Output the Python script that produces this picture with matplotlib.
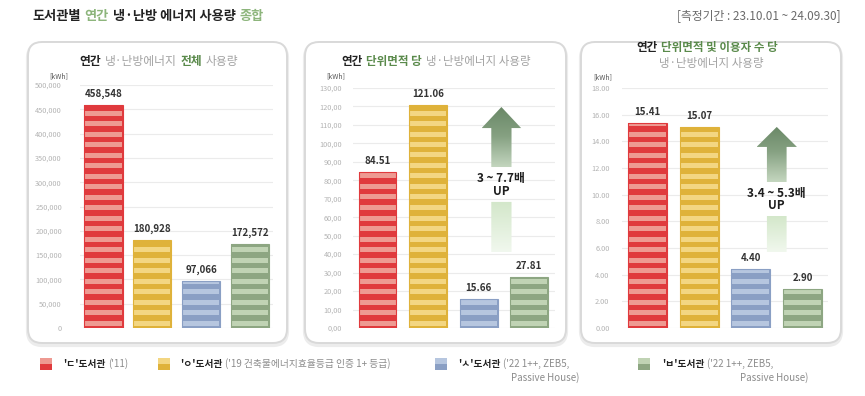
import numpy as np
import matplotlib.pyplot as plt
from matplotlib.patches import FancyBboxPatch, Rectangle, PathPatch
from matplotlib.path import Path
from matplotlib.colors import LinearSegmentedColormap
from matplotlib.ticker import FuncFormatter

plt.rcParams['font.family'] = ['Noto Sans CJK KR', 'DejaVu Sans']

# data
libraries = ["'ㄷ'도서관", "'ㅇ'도서관", "'ㅅ'도서관", "'ㅂ'도서관"]
lib_notes = ["('11)", "('19 건축물에너지효율등급 인증 1+ 등급)", "('22 1++, ZEB5,", "('22 1++, ZEB5,"]
total_use = [458548, 180928, 97066, 172572]
per_area = [84.51, 121.06, 15.66, 27.81]
per_area_user = [15.41, 15.07, 4.40, 2.90]

dark = ['#e03a3d', '#dfb23a', '#8a9fc4', '#8da682']
light = ['#ee9a92', '#f3d682', '#b6c6df', '#c0d3b4']

W, H = 865, 396
fig = plt.figure(figsize=(W / 100, H / 100), dpi=100)
fig.patch.set_facecolor('white')


def fx(px):
    return px / W


def fy(py):
    return 1 - py / H


def rich_text(x, y, parts, size, ha='left'):
    r = fig.canvas.get_renderer()
    gap = size * 0.3 * 100 / 72
    items, widths = [], []
    for s, c, w in parts:
        t = fig.text(0, fy(y), s, fontsize=size, color=c, fontweight=w, va='center', ha='left')
        items.append(t)
        widths.append(t.get_window_extent(r).width)
    total = sum(widths) + gap * (len(parts) - 1)
    if ha == 'center':
        start = x - total / 2
    elif ha == 'right':
        start = x - total
    else:
        start = x
    for t, w in zip(items, widths):
        t.set_x(fx(start))
        start += w + gap


def panel_box(x0, y0, x1, y1):
    shadow = FancyBboxPatch((x0 / 100, (H - y1 - 2) / 100), (x1 - x0) / 100, (y1 - y0) / 100,
                            boxstyle='round,pad=0,rounding_size=0.14', transform=fig.dpi_scale_trans,
                            facecolor='none', edgecolor='#ececec', lw=3, zorder=-3)
    box = FancyBboxPatch((x0 / 100, (H - y1) / 100), (x1 - x0) / 100, (y1 - y0) / 100,
                         boxstyle='round,pad=0,rounding_size=0.14', transform=fig.dpi_scale_trans,
                         facecolor='white', edgecolor='#d9d9d9', lw=1.4, zorder=-2)
    fig.add_artist(shadow)
    fig.add_artist(box)


def make_axes(x0, x1, ytop, ybot, ymax, step, fmt, xlim):
    ax = fig.add_axes([fx(x0), fy(ybot), (x1 - x0) / W, (ybot - ytop) / H])
    ax.set_facecolor('none')
    ax.set_ylim(0, ymax)
    ax.set_xlim(*xlim)
    ax.set_yticks(np.arange(0, ymax + step / 2, step))
    ax.yaxis.set_major_formatter(FuncFormatter(fmt))
    ax.set_xticks([])
    for s in ax.spines.values():
        s.set_visible(False)
    ax.yaxis.grid(True, color='#ebebeb', lw=0.8)
    ax.set_axisbelow(True)
    return ax


def striped_bars(ax, values, width, labels):
    unit = ax.get_ylim()[1] / (ax.get_position().height * H)
    period, thick = 10.5 * unit, 5 * unit
    for i, v in enumerate(values):
        ax.bar(i, v, width, color=dark[i], lw=0, zorder=2)
        bottoms = np.arange(2.5 * unit, v - thick * 0.4, period)
        heights = np.minimum(thick, v - bottoms - unit)
        ax.bar([i] * len(bottoms), heights, width * 0.95, bottom=bottoms, color=light[i], lw=0, zorder=2.1)
        ax.bar(i, v, width, fill=False, edgecolor=dark[i], lw=0.8, zorder=2.2)
        ax.text(i, v + 11 * unit, labels[i], ha='center', va='center', fontsize=7,
                fontweight='bold', color='#333333')


def gradient_arrow(ax, xc, tip, head_base, upper_end, lower_top, bottom, head_hw, shaft_hw, label):
    verts = [(xc - shaft_hw, upper_end), (xc - shaft_hw, head_base), (xc - head_hw, head_base),
             (xc, tip), (xc + head_hw, head_base), (xc + shaft_hw, head_base),
             (xc + shaft_hw, upper_end), (xc - shaft_hw, upper_end),
             (xc - shaft_hw, bottom), (xc - shaft_hw, lower_top), (xc + shaft_hw, lower_top),
             (xc + shaft_hw, bottom), (xc - shaft_hw, bottom)]
    codes = [Path.MOVETO] + [Path.LINETO] * 6 + [Path.CLOSEPOLY] + \
            [Path.MOVETO] + [Path.LINETO] * 3 + [Path.CLOSEPOLY]
    patch = PathPatch(Path(verts, codes), transform=ax.transData, facecolor='none', edgecolor='none')
    ax.add_patch(patch)
    span = tip - bottom
    cmap = LinearSegmentedColormap.from_list('arr', [
        (0.0, '#f1f8ee'),
        ((lower_top - bottom) / span, '#d3e7ca'),
        ((upper_end - bottom) / span, '#c4d6bf'),
        (0.8, '#86a182'),
        (1.0, '#6a8867')])
    grad = np.linspace(0, 1, 256).reshape(-1, 1)
    im = ax.imshow(grad, extent=[xc - head_hw, xc + head_hw, bottom, tip], origin='lower',
                   aspect='auto', cmap=cmap, zorder=3)
    im.set_clip_path(patch)
    mid = (upper_end + lower_top) / 2
    ax.text(xc, mid + (upper_end - lower_top) * 0.17, label, ha='center', va='center',
            fontsize=8.5, fontweight='bold', color='#1e1e1e', zorder=4)
    ax.text(xc, mid - (upper_end - lower_top) * 0.2, 'UP', ha='center', va='center',
            fontsize=8.5, fontweight='bold', color='#1e1e1e', zorder=4)


# title
rich_text(32, 16, [('도서관별', '#222222', 'bold'), ('연간', '#8db57c', 'bold'),
                   ('냉·난방 에너지 사용량', '#222222', 'bold'), ('종합', '#8db57c', 'bold')], 9.5)
fig.text(fx(841), fy(16), '[측정기간 : 23.10.01 ~ 24.09.30]', ha='right', va='center',
         fontsize=8.5, color='#6a6a6a')

# panels
panel_box(28, 42, 287, 343)
panel_box(305, 42, 566, 343)
panel_box(581, 42, 841, 343)

green = '#5a8a4b'
gray = '#a3a3a3'
rich_text(159, 61, [('연간', '#222222', 'bold'), ('냉·난방에너지', gray, 'normal'),
                    ('전체', green, 'bold'), ('사용량', gray, 'normal')], 8.5, ha='center')
rich_text(436, 61, [('연간', '#222222', 'bold'), ('단위면적 당', green, 'bold'),
                    ('냉·난방에너지 사용량', gray, 'normal')], 8.3, ha='center')
rich_text(707, 48, [('연간', '#222222', 'bold'), ('단위면적 및 이용자 수 당', green, 'bold')], 8.3,
          ha='center')
fig.text(fx(711), fy(64), '냉·난방에너지 사용량', ha='center', va='center', fontsize=8.3, color=gray)

tick_kw = dict(length=0, labelsize=5.3, labelcolor='#b3b3b3')

ax1 = make_axes(80, 273, 85, 328, 500000, 50000, lambda v, p: f'{v:,.0f}', (-0.48, 3.47))
ax1.tick_params(axis='y', pad=13, **tick_kw)
striped_bars(ax1, total_use, 0.78, [f'{v:,}' for v in total_use])

ax2 = make_axes(353, 555, 88, 328, 130, 10, lambda v, p: f'{v:.2f}'.replace('.', ','), (-0.485, 3.51))
ax2.tick_params(axis='y', pad=8, **tick_kw)
striped_bars(ax2, per_area, 0.75, [f'{v:.2f}' for v in per_area])
gradient_arrow(ax2, 2.45, 119.7, 108.3, 87.2, 68.3, 41.2, 0.39, 0.2, '3 ~ 7.7배')
ax2.set_xlim(-0.485, 3.51)
ax2.set_ylim(0, 130)

ax3 = make_axes(622, 828, 88, 328, 18, 2, lambda v, p: f'{v:.2f}', (-0.49, 3.49))
ax3.tick_params(axis='y', pad=9, **tick_kw)
striped_bars(ax3, per_area_user, 0.75, [f'{v:.2f}' for v in per_area_user])
gradient_arrow(ax3, 2.5, 15.08, 13.58, 10.95, 8.4, 5.7, 0.39, 0.19, '3.4 ~ 5.3배')
ax3.set_xlim(-0.49, 3.49)
ax3.set_ylim(0, 18)

for xr, yk in [(68, 76), (345, 76), (612, 77)]:
    fig.text(fx(xr), fy(yk), '[kWh]', ha='right', va='center', fontsize=5, color='#555555')

# legend
legend_x = [(40, 63), (158, 180), (435, 458), (638, 662)]
for i, (sx, tx) in enumerate(legend_x):
    fig.add_artist(Rectangle((fx(sx), fy(364)), 12 / W, 6 / H, transform=fig.transFigure,
                             facecolor=light[i], lw=0))
    fig.add_artist(Rectangle((fx(sx), fy(370)), 12 / W, 6 / H, transform=fig.transFigure,
                             facecolor=dark[i], lw=0))
    rich_text(tx, 364, [(libraries[i], '#222222', 'bold'), (lib_notes[i], '#8c8c8c', 'normal')], 7)
fig.text(fx(511), fy(378), 'Passive House)', ha='left', va='center', fontsize=7, color='#8c8c8c')
fig.text(fx(740), fy(378), 'Passive House)', ha='left', va='center', fontsize=7, color='#8c8c8c')

fig.savefig('out.png', dpi=100)
